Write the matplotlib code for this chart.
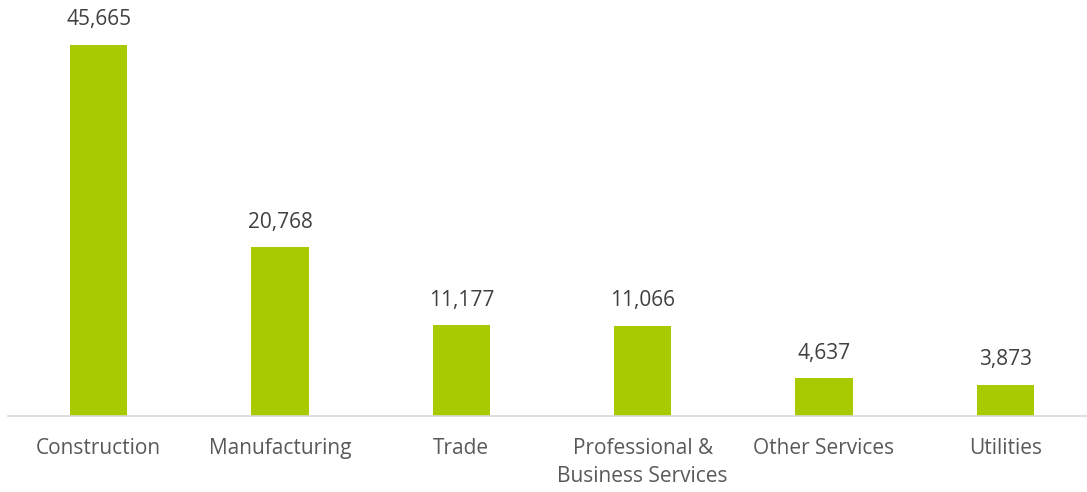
import matplotlib.pyplot as plt
import numpy as np

categories = ["Construction", "Manufacturing", "Trade",
              "Professional &\nBusiness Services", "Other Services", "Utilities"]
values = [45665, 20768, 11177, 11066, 4637, 3873]

plt.rcParams['font.family'] = ['Open Sans', 'DejaVu Sans']

fig = plt.figure(figsize=(10.87, 4.92), dpi=100)
W, H = 1087, 492
ax = fig.add_axes([8 / W, 76 / H, 1088 / W, 416 / H])

x = np.arange(len(categories))
bars = ax.bar(x, values, width=0.315, color="#A8CA00", zorder=2)

ax.set_xlim(-0.5, len(categories) - 0.5)
ax.set_ylim(0, 45665 * 416 / 371)

for xi, v in zip(x, values):
    ax.text(xi, v + 1800, f"{v:,}", ha="center", va="bottom",
            fontsize=15, color="#404040")

ax.set_xticks(x)
ax.set_xticklabels(categories, fontsize=15, color="#595959", linespacing=1.45)
ax.tick_params(axis="x", length=0, pad=16)
ax.set_yticks([])

for side in ["top", "right", "left"]:
    ax.spines[side].set_visible(False)
ax.spines["bottom"].set_color("#D9D9D9")
ax.spines["bottom"].set_linewidth(1.2)

fig.savefig("out.png", dpi=100)
